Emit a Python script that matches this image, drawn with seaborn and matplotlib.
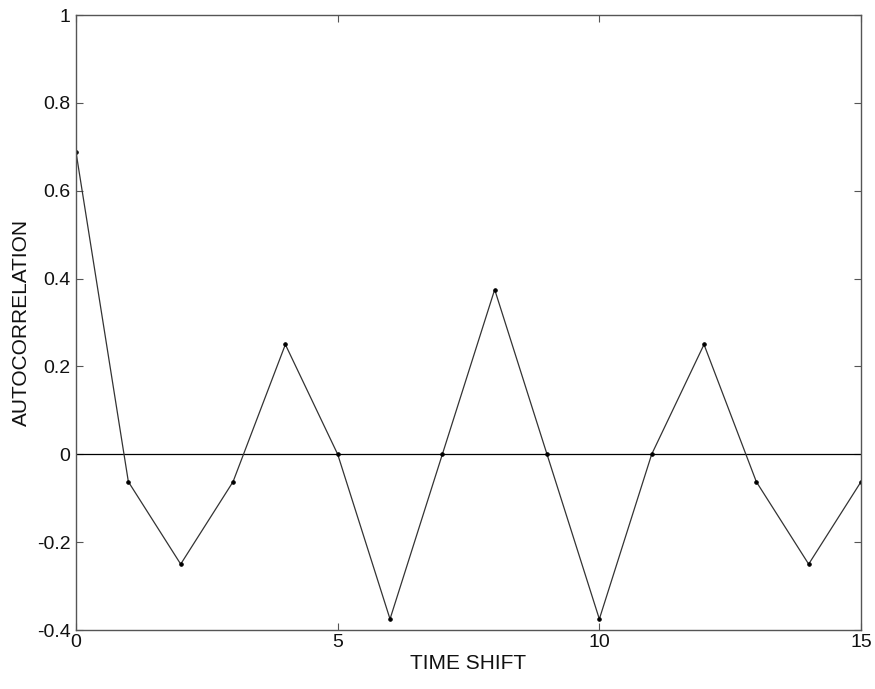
import matplotlib
matplotlib.use("Agg")
import matplotlib.pyplot as plt
import seaborn as sns
import pandas as pd

# Autocorrelation values per time shift
time_shift = [0, 1, 2, 3, 4, 5, 6, 7, 8, 9, 10, 11, 12, 13, 14, 15]
autocorr = [0.6875, -0.0625, -0.25, -0.0625, 0.25, 0.0, -0.375, 0.0,
            0.375, 0.0, -0.375, 0.0, 0.25, -0.0625, -0.25, -0.0625]
x_ticks = [0, 5, 10, 15]
y_ticks = [-0.4, -0.2, 0, 0.2, 0.4, 0.6, 0.8, 1]
y_tick_labels = ["-0.4", "-0.2", "0", "0.2", "0.4", "0.6", "0.8", "1"]

sns.set_theme(style="white")
plt.rcParams["font.family"] = ["Liberation Sans", "DejaVu Sans"]

df = pd.DataFrame({"shift": time_shift, "ac": autocorr})

fig = plt.figure(figsize=(8.75, 6.89), dpi=100)
ax = fig.add_axes([0.0869, 0.0856, 0.8971, 0.8926])

ax.axhline(0, color="black", linewidth=0.9, zorder=1)
sns.lineplot(data=df, x="shift", y="ac", ax=ax, color="#333333",
             linewidth=0.9, marker="o", markersize=2.5,
             markerfacecolor="black", markeredgecolor="black", zorder=2)

ax.set_xlim(0, 15)
ax.set_ylim(-0.4, 1)
ax.set_xticks(x_ticks)
ax.set_xticklabels([str(t) for t in x_ticks])
ax.set_yticks(y_ticks)
ax.set_yticklabels(y_tick_labels)
ax.set_xlabel("TIME SHIFT", fontsize=15, labelpad=2, color="#111111")
ax.set_ylabel("AUTOCORRELATION", fontsize=15, labelpad=4, color="#111111")

ax.tick_params(axis="both", which="both", direction="in", length=5,
               width=0.8, color="#555555", labelsize=14, labelcolor="#111111",
               top=True, right=True, bottom=True, left=True, pad=4)
ax.tick_params(axis="x", pad=3)
for side in ax.spines.values():
    side.set_color("#555555")
    side.set_linewidth(1.0)

fig.savefig("out.png", dpi=100)
